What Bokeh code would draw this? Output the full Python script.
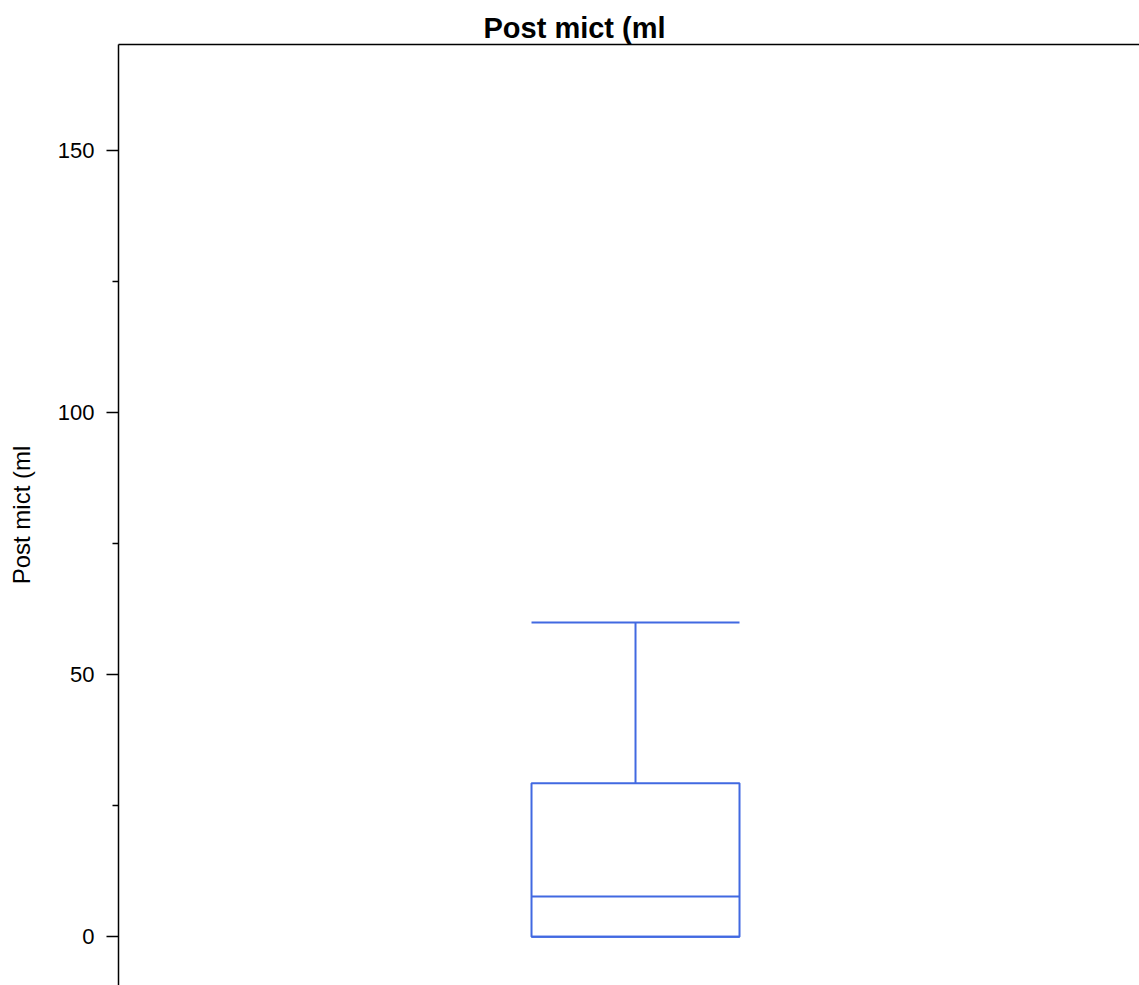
from bokeh.plotting import figure
from bokeh.models import ColumnDataSource, Range1d, LinearAxis, FixedTicker
from bokeh.embed import file_html
from bokeh.resources import INLINE

# ---- data ----
categories = ["Post mict (ml"]
xpos = [1.0]
q1 = [0.0]
median = [7.7]
q3 = [29.3]
lower = [0.0]
upper = [60.0]
y_ticks = [0, 50, 100, 150]
y_minor_ticks = [25, 75, 125]

BOX_W = 0.5
BLUE = "#4169E1"
FONT = "Liberation Sans"

src = ColumnDataSource(dict(
    x=xpos,
    left=[x - BOX_W / 2 for x in xpos],
    right=[x + BOX_W / 2 for x in xpos],
    q1=q1, median=median, q3=q3, lower=lower, upper=upper,
    cat=categories,
))

p = figure(width=1139, height=985,
           x_range=Range1d(-0.2428, 2.2115), y_range=Range1d(-9.3, 170.3),
           output_backend="svg", toolbar_location=None,
           x_axis_location=None, y_axis_location="left",
           min_border_left=118, min_border_right=0,
           min_border_top=44, min_border_bottom=0,
           title=categories[0])
p.outline_line_color = None
p.xgrid.visible = False
p.ygrid.visible = False
p.background_fill_color = "white"
p.border_fill_color = "white"

# title
p.title.text_font = FONT
p.title.text_font_size = "29px"
p.title.text_font_style = "bold"
p.title.text_color = "black"
p.title.align = "left"
p.title.offset = 365
p.title.standoff = 1

# left axis
ya = p.yaxis[0]
ya.ticker = FixedTicker(ticks=y_ticks, minor_ticks=y_minor_ticks)
ya.axis_line_width = 1.5
ya.axis_line_color = "black"
ya.major_tick_out = 12
ya.major_tick_in = 0
ya.minor_tick_out = 6
ya.minor_tick_in = 0
ya.major_tick_line_width = 1.5
ya.minor_tick_line_width = 1.5
ya.major_label_text_font = FONT
ya.major_label_text_font_size = "22px"
ya.major_label_text_color = "black"
ya.major_label_standoff = 12
ya.axis_label = categories[0]
ya.axis_label_text_font = FONT
ya.axis_label_text_font_size = "24px"
ya.axis_label_text_font_style = "normal"
ya.axis_label_text_color = "black"
ya.axis_label_standoff = 20

# top border line as an axis with no ticks
top_axis = LinearAxis(ticker=FixedTicker(ticks=[]), major_tick_out=0, major_tick_in=0,
                      minor_tick_out=0, minor_tick_in=0,
                      major_label_text_font_size="0px", major_label_standoff=0,
                      axis_line_width=1.5, axis_line_color="black")
p.add_layout(top_axis, "above")

# box plot
p.segment(x0="x", y0="q3", x1="x", y1="upper", source=src, line_color=BLUE, line_width=2)
p.segment(x0="x", y0="lower", x1="x", y1="q1", source=src, line_color=BLUE, line_width=2)
p.segment(x0="left", y0="upper", x1="right", y1="upper", source=src, line_color=BLUE, line_width=2)
p.segment(x0="left", y0="lower", x1="right", y1="lower", source=src, line_color=BLUE, line_width=2)
p.quad(left="left", right="right", bottom="q1", top="q3", source=src,
       fill_color=None, line_color=BLUE, line_width=2)
p.segment(x0="left", y0="median", x1="right", y1="median", source=src, line_color=BLUE, line_width=2)

open("out.html", "w").write(file_html(p, INLINE))
